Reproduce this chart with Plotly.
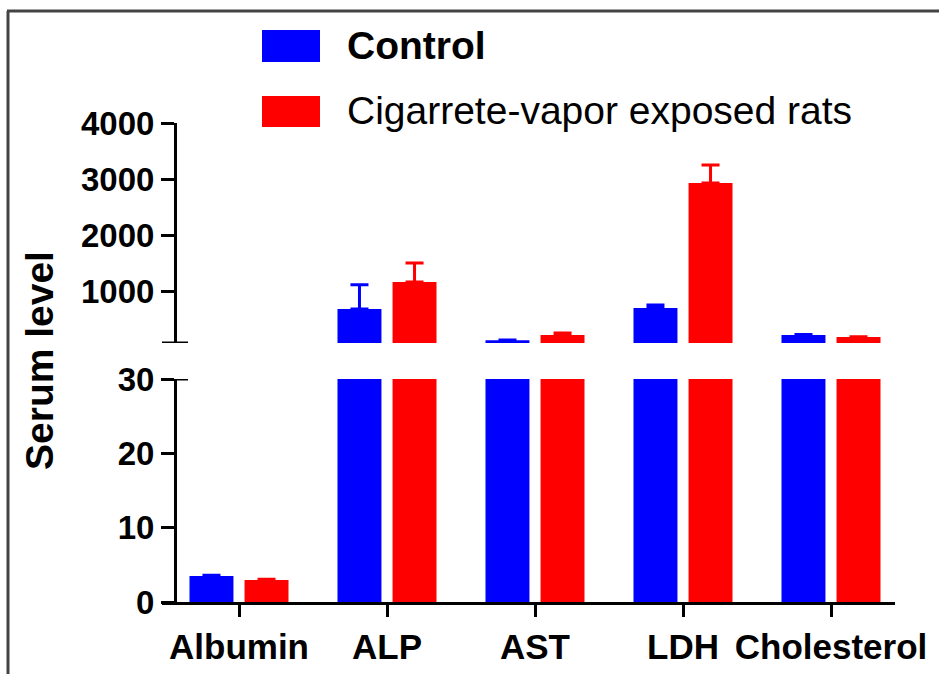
import plotly.graph_objects as go

categories = ["Albumin", "ALP", "AST", "LDH", "Cholesterol"]
control_mean = [3.5, 680, 120, 696, 214]
control_err = [0.1, 430, 5, 54, 8]
exposed_mean = [2.96, 1160, 214, 2929, 179]
exposed_err = [0.1, 340, 36, 321, 5]
lower_ticks = [0, 10, 20, 30]
upper_ticks = [1000, 2000, 3000, 4000]
series_names = ["Control", "Cigarrete-vapor exposed rats"]

W, H = 939, 674
L, R, T, B = 162, 895, 123, 602
PW, PH = R - L, B - T

def px(x):
    return (x - L) / PW

def py(y):
    return (B - y) / PH

BLUE = "#0000FF"
RED = "#FF0000"
FONT = "Liberation Sans, Arial, sans-serif"

xs = list(range(len(categories)))
bw = 0.297
off_c = -0.186 - bw / 2
off_e = 0.186 - bw / 2

fig = go.Figure()
for yax in ["y", "y2"]:
    fig.add_trace(go.Bar(
        x=xs, y=control_mean, width=bw, offset=off_c, yaxis=yax,
        marker=dict(color=BLUE, line=dict(width=0)), name=series_names[0],
        showlegend=False,
        error_y=dict(type="data", symmetric=False, array=control_err,
                     arrayminus=[0] * len(control_err), color=BLUE,
                     thickness=3, width=9)))
    fig.add_trace(go.Bar(
        x=xs, y=exposed_mean, width=bw, offset=off_e, yaxis=yax,
        marker=dict(color=RED, line=dict(width=0)), name=series_names[1],
        showlegend=False,
        error_y=dict(type="data", symmetric=False, array=exposed_err,
                     arrayminus=[0] * len(exposed_err), color=RED,
                     thickness=3, width=9)))

yaxis_pos = px(175)
lower_top = py(379)
upper_bot = py(343)
upper_min = 4000 - (343 - 123) / ((291 - 123) / 3000)

tickfont = dict(family=FONT, size=33, color="black", weight="bold")

shapes = []
# caps at the axis break
for yref, yv in [("y", 30), ("y2", upper_min)]:
    shapes.append(dict(type="line", xref="paper", yref=yref,
                       x0=px(162), x1=px(188), y0=yv, y1=yv,
                       line=dict(color="black", width=3)))
# frame (top and left edges only)
shapes.append(dict(type="line", xref="paper", yref="paper",
                   x0=px(7), x1=px(990), y0=py(11), y1=py(11),
                   line=dict(color="#444444", width=3)))
shapes.append(dict(type="line", xref="paper", yref="paper",
                   x0=px(8), x1=px(8), y0=py(11), y1=py(700),
                   line=dict(color="#444444", width=3)))
# legend swatches
for (y0, y1), col in [((30, 62), BLUE), ((96, 127), RED)]:
    shapes.append(dict(type="rect", xref="paper", yref="paper",
                       x0=px(262), x1=px(320), y0=py(y1), y1=py(y0),
                       fillcolor=col, line=dict(width=0)))

annotations = [
    dict(text="Control", xref="paper", yref="paper", x=px(345), y=py(46),
         xanchor="left", yanchor="middle", showarrow=False,
         font=dict(family=FONT, size=39, color="black", weight="bold")),
    dict(text="Cigarrete-vapor exposed rats", xref="paper", yref="paper",
         x=px(345), y=py(111), xanchor="left", yanchor="middle",
         showarrow=False,
         font=dict(family=FONT, size=39, color="black")),
    dict(text="Serum level", xref="paper", yref="paper", x=px(39), y=py(360),
         xanchor="center", yanchor="middle", textangle=-90, showarrow=False,
         font=dict(family=FONT, size=39, color="black", weight="bold")),
]

fig.update_layout(
    width=W, height=H,
    margin=dict(l=L, r=W - R, t=T, b=H - B, pad=0, autoexpand=False),
    paper_bgcolor="white", plot_bgcolor="white",
    barmode="overlay",
    showlegend=False,
    xaxis=dict(
        domain=[0, 1], range=[-(239 - L) / 148, 4 + (R - 831) / 148],
        tickmode="array", tickvals=xs, ticktext=categories,
        showline=True, linecolor="black", linewidth=3,
        ticks="outside", ticklen=12, tickwidth=3, tickcolor="black",
        showgrid=False, zeroline=False, anchor="y", automargin=False,
        tickfont=dict(family=FONT, size=35, color="black", weight="bold"),
    ),
    yaxis=dict(
        domain=[0, lower_top], range=[0, 30], tickvals=lower_ticks,
        anchor="free", position=yaxis_pos, automargin=False,
        showline=True, linecolor="black", linewidth=3,
        ticks="outside", ticklen=13, tickwidth=3, tickcolor="black",
        showgrid=False, zeroline=False, tickfont=tickfont,
    ),
    yaxis2=dict(
        domain=[upper_bot, 1], range=[upper_min, 4000], tickvals=upper_ticks,
        anchor="free", position=yaxis_pos, automargin=False,
        showline=True, linecolor="black", linewidth=3,
        ticks="outside", ticklen=13, tickwidth=3, tickcolor="black",
        showgrid=False, zeroline=False, tickfont=tickfont,
    ),
    shapes=shapes,
    annotations=annotations,
)

fig.write_html(
    "out.html",
    config={"displayModeBar": False},
    post_script="document.body.style.margin='0';document.body.style.overflow='hidden';",
)
